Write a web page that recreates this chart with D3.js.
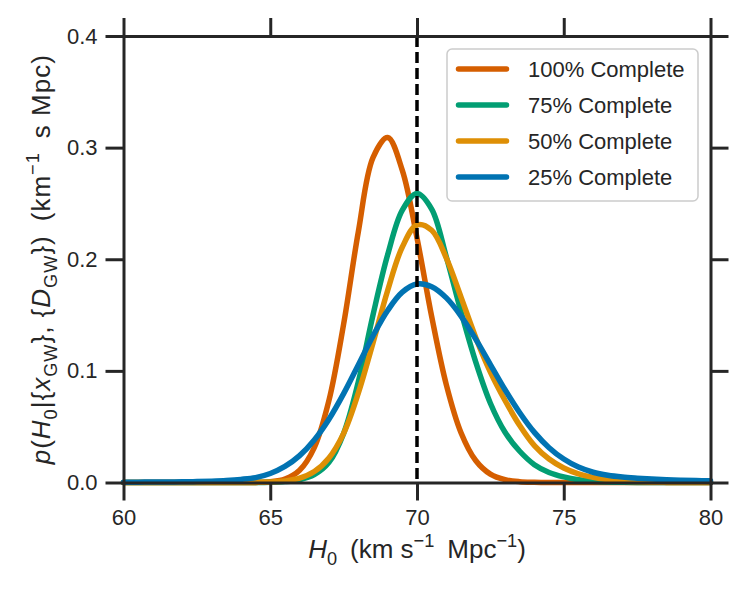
<!DOCTYPE html>
<html>
<head>
<meta charset="utf-8">
<script src="https://cdn.jsdelivr.net/npm/d3@7"></script>
<style>
  html, body { margin: 0; padding: 0; background: #fff; }
  svg text { white-space: pre; }
</style>
</head>
<body>
<div id="chart"></div>
<script>
// H0 grid (km s^-1 Mpc^-1), posterior values
const h0 = [
  60, 60.5, 61, 61.5, 62, 62.5, 63, 63.5, 64, 64.5,
  65, 65.5, 66, 66.5, 67, 67.5, 68, 68.5, 69, 69.5,
  70, 70.5, 71, 71.5, 72, 72.5, 73, 73.5, 74, 74.5,
  75, 75.5, 76, 76.5, 77, 77.5, 78, 78.5, 79, 79.5, 80,
];
const complete100 = [
  0, 0, 0, 0, 0, 0, 0, 0, 0, 0.0001,
  0.0007, 0.0031, 0.0109, 0.0312, 0.0735, 0.1419, 0.2245, 0.291, 0.309, 0.2796,
  0.219, 0.1487, 0.0875, 0.0446, 0.0197, 0.0075, 0.0025, 0.0007, 0.0002, 0,
  0, 0, 0, 0, 0, 0, 0, 0, 0, 0, 0,
];
const complete75 = [
  0, 0, 0, 0, 0, 0, 0, 0, 0, 0,
  0.0002, 0.0008, 0.0025, 0.007, 0.018, 0.044, 0.09, 0.15, 0.204, 0.244,
  0.259, 0.245, 0.202, 0.153, 0.108, 0.071, 0.045, 0.028, 0.016, 0.009,
  0.005, 0.0025, 0.0012, 0.0005, 0.0002, 0.0001, 0, 0, 0, 0, 0,
];
const complete50 = [
  0, 0, 0, 0, 0, 0, 0, 0, 0, 0.0001,
  0.0004, 0.0014, 0.0039, 0.0098, 0.022, 0.044, 0.08, 0.125, 0.172, 0.211,
  0.2308, 0.226, 0.201, 0.166, 0.13, 0.099, 0.0735, 0.051, 0.033, 0.021,
  0.013, 0.0078, 0.0046, 0.0026, 0.0014, 0.0007, 0.0003, 0.0001, 0, 0, 0,
];
const complete25 = [
  0.0003, 0.0003, 0.0004, 0.0005, 0.0006, 0.0008, 0.0012, 0.0018, 0.0028, 0.0044,
  0.0081, 0.0144, 0.0241, 0.0381, 0.0567, 0.0796, 0.1053, 0.1313, 0.1541, 0.1705,
  0.1778, 0.1754, 0.1654, 0.1491, 0.1284, 0.1057, 0.0831, 0.0625, 0.0449, 0.0312,
  0.021, 0.0138, 0.0092, 0.0065, 0.0049, 0.0039, 0.0031, 0.0025, 0.0021, 0.0018, 0.0015,
];

const seriesNames = ["100% Complete", "75% Complete", "50% Complete", "25% Complete"];
const seriesValues = [complete100, complete75, complete50, complete25];
const seriesColors = ["#d55e00", "#029e73", "#de8f05", "#0173b2"];

const xTicks = [60, 65, 70, 75, 80];
const yTicks = [0.0, 0.1, 0.2, 0.3, 0.4];
const trueH0 = 70;

const width = 750;
const height = 600;
const margin = { top: 36, right: 39.5, bottom: 117.5, left: 123.5 };
const ink = "#262626";
const font = "'Liberation Sans', Arial, sans-serif";
const tickSize = 22;
const labelSize = 26;

const svg = d3
  .select("#chart")
  .append("svg")
  .attr("width", width)
  .attr("height", height)
  .style("font-family", font);

const x = d3.scaleLinear().domain([60, 80]).range([margin.left, width - margin.right]);
const y = d3.scaleLinear().domain([0, 0.4]).range([height - margin.bottom, margin.top]);

// curves
const line = d3
  .line()
  .x((d) => x(d[0]))
  .y((d) => y(d[1]))
  .curve(d3.curveCatmullRom.alpha(0.5));

seriesValues.forEach((vals, i) => {
  svg
    .append("path")
    .datum(h0.map((h, j) => [h, vals[j]]))
    .attr("fill", "none")
    .attr("stroke", seriesColors[i])
    .attr("stroke-width", 5.5)
    .attr("stroke-linejoin", "round")
    .attr("stroke-linecap", "round")
    .attr("d", line);
});

// true value
svg
  .append("line")
  .attr("x1", x(trueH0))
  .attr("x2", x(trueH0))
  .attr("y1", y(0.4))
  .attr("y2", y(0))
  .attr("stroke", "#000")
  .attr("stroke-width", 3.5)
  .attr("stroke-dasharray", "11,5");

// axes (ticks outside on all four sides)
function styleAxis(g) {
  g.attr("font-family", font).attr("font-size", tickSize);
  g.select(".domain").attr("stroke", ink).attr("stroke-width", 3).attr("stroke-linecap", "square");
  g.selectAll(".tick line").attr("stroke", ink).attr("stroke-width", 3);
  g.selectAll(".tick text").attr("fill", ink);
}

svg
  .append("g")
  .attr("transform", `translate(0,${y(0)})`)
  .call(d3.axisBottom(x).tickValues(xTicks).tickSize(18).tickSizeOuter(0).tickPadding(9))
  .call(styleAxis);

svg
  .append("g")
  .attr("transform", `translate(0,${y(0.4)})`)
  .call(d3.axisTop(x).tickValues(xTicks).tickSize(18).tickSizeOuter(0).tickFormat(() => ""))
  .call(styleAxis);

svg
  .append("g")
  .attr("transform", `translate(${x(60)},0)`)
  .call(d3.axisLeft(y).tickValues(yTicks).tickSize(18).tickSizeOuter(0).tickPadding(8).tickFormat(d3.format(".1f")))
  .call(styleAxis);

svg
  .append("g")
  .attr("transform", `translate(${x(80)},0)`)
  .call(d3.axisRight(y).tickValues(yTicks).tickSize(18).tickSizeOuter(0).tickFormat(() => ""))
  .call(styleAxis);

// text with italics, sub- and superscripts
function rich(text, parts, fs) {
  let shift = 0;
  parts.forEach((p) => {
    const target = p.sub ? 0.28 : p.sup ? -0.42 : 0;
    const ts = text.append("tspan").text(p.t);
    if (p.i) ts.attr("font-style", "italic");
    if (p.sub || p.sup) ts.attr("font-size", fs * 0.7);
    if (target !== shift) ts.attr("dy", (target - shift) * fs);
    shift = target;
  });
}

const xLabel = svg
  .append("text")
  .attr("x", (x(60) + x(80)) / 2)
  .attr("y", 558)
  .attr("text-anchor", "middle")
  .attr("font-size", labelSize)
  .attr("fill", ink);
rich(
  xLabel,
  [
    { t: "H", i: true },
    { t: "0", sub: true },
    { t: "\u2002(km s" },
    { t: "−1", sup: true },
    { t: "\u2002Mpc" },
    { t: "−1", sup: true },
    { t: ")" },
  ],
  labelSize
);

const yLabel = svg
  .append("text")
  .attr("transform", `translate(50,${(y(0) + y(0.4)) / 2}) rotate(-90)`)
  .attr("text-anchor", "middle")
  .attr("font-size", labelSize)
  .attr("letter-spacing", 1)
  .attr("fill", ink);
rich(
  yLabel,
  [
    { t: "p", i: true },
    { t: "(" },
    { t: "H", i: true },
    { t: "0", sub: true },
    { t: "|{" },
    { t: "x", i: true },
    { t: "GW", sub: true },
    { t: "}, {" },
    { t: "D", i: true },
    { t: "GW", sub: true },
    { t: "})\u2002(km" },
    { t: "−1", sup: true },
    { t: "\u2002s Mpc)" },
  ],
  labelSize
);

// legend
const legend = svg.append("g").attr("transform", "translate(447,49)");
legend
  .append("rect")
  .attr("width", 251)
  .attr("height", 152)
  .attr("rx", 5)
  .attr("fill", "#fff")
  .attr("fill-opacity", 0.8)
  .attr("stroke", "#cccccc")
  .attr("stroke-width", 1.5);

const item = legend
  .selectAll("g.item")
  .data(seriesNames)
  .join("g")
  .attr("class", "item")
  .attr("transform", (_, i) => `translate(0,${20 + i * 36})`);

item
  .append("line")
  .attr("x1", 11.5)
  .attr("x2", 59.5)
  .attr("stroke", (_, i) => seriesColors[i])
  .attr("stroke-width", 5.5)
  .attr("stroke-linecap", "round");

item
  .append("text")
  .attr("x", 81)
  .attr("dy", "0.36em")
  .attr("font-size", tickSize)
  .attr("fill", ink)
  .text((d) => d);
</script>
</body>
</html>
